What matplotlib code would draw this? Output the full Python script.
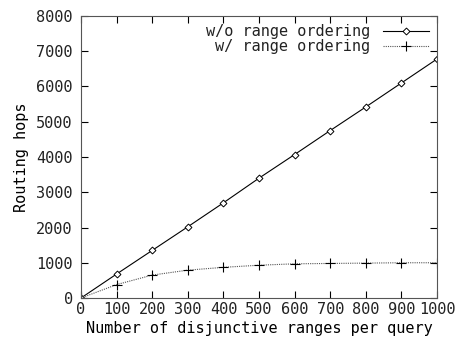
import matplotlib
matplotlib.use('Agg')
import matplotlib.pyplot as plt

# data
ranges = [0, 100, 200, 300, 400, 500, 600, 700, 800, 900, 1000]
hops_no_order = [0, 680, 1350, 2020, 2700, 3400, 4070, 4750, 5420, 6100, 6780]
hops_order = [0, 380, 650, 790, 870, 930, 970, 980, 990, 1000, 1000]
xticks = [0, 100, 200, 300, 400, 500, 600, 700, 800, 900, 1000]
yticks = [0, 1000, 2000, 3000, 4000, 5000, 6000, 7000, 8000]

plt.rcParams['font.family'] = ['DejaVu Sans Mono']
plt.rcParams['font.size'] = 11
plt.rcParams['text.color'] = '#222222'
plt.rcParams['xtick.labelcolor'] = '#222222'
plt.rcParams['ytick.labelcolor'] = '#222222'

fig = plt.figure(figsize=(4.58, 3.43), dpi=100)
ax = fig.add_axes([81 / 458, 45 / 343, 356 / 458, 282 / 343])

ax.plot(ranges, hops_no_order, color='black', lw=0.8, marker='D', ms=3.5,
        mfc='white', mec='black', mew=0.7, label='w/o range ordering')
ax.plot(ranges, hops_order, color='#555555', lw=0.8, ls=(0, (1, 1)), marker='+',
        ms=7, mec='black', mew=0.8, label='w/ range ordering')

ax.set_xlim(0, 1000)
ax.set_ylim(0, 8000)
ax.set_xticks(xticks)
ax.set_yticks(yticks)
ax.tick_params(direction='in', top=True, right=True, length=5, width=0.8, color='black')
ax.tick_params(axis='x', pad=3)
ax.tick_params(axis='y', pad=6)
for s in ax.spines.values():
    s.set_color('#555555')
    s.set_linewidth(0.8)

ax.set_xlabel('Number of disjunctive ranges per query', labelpad=3)
ax.set_ylabel('Routing hops', labelpad=5)

leg = ax.legend(loc='upper right', frameon=False, markerfirst=False,
                handlelength=3.0, borderaxespad=0.15, labelspacing=0.0)
for t in leg.get_texts():
    t.set_ha('right')

fig.savefig('out.png', dpi=100)
